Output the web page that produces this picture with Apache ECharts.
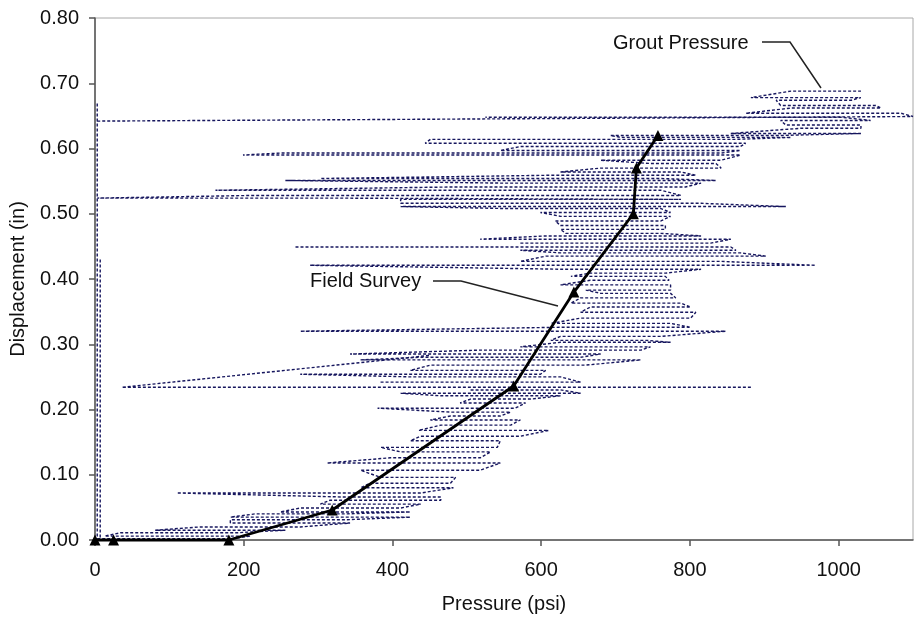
<!DOCTYPE html>
<html>
<head>
<meta charset="utf-8">
<script src="https://cdn.jsdelivr.net/npm/echarts@6/dist/echarts.min.js"></script>
<style>
html,body{margin:0;padding:0;background:#fff;}
#chart{width:917px;height:619px;}
</style>
</head>
<body>
<div id="chart"></div>
<script>
// Tick labels
var xTicks = [0, 200, 400, 600, 800, 1000];
var yTicks = [0, 0.1, 0.2, 0.3, 0.4, 0.5, 0.6, 0.7, 0.8];

// Field Survey (pressure psi, displacement in)
var fieldPressure = [0, 25, 180, 319, 563, 644, 724, 728, 757];
var fieldDisp     = [0, 0, 0, 0.046, 0.236, 0.38, 0.50, 0.57, 0.62];

// Grout Pressure trace as [pressure, displacement]
var groutZero = [[3,0.669],[3,0.002]];
var groutZero2 = [[7,0.43],[7,0.0]];
var groutLow = [
[3,0.002],[184,0.002],[209,0.006],[13,0.006],[34,0.011],[189,0.011],[256,0.015],[81,0.015],[141,0.020],[276,0.020],
[343,0.026],[182,0.026],[182,0.031],[337,0.031],[424,0.035],[182,0.035],[215,0.040],[337,0.040],[424,0.043],[249,0.043],
[276,0.049],[411,0.049],[438,0.055],[303,0.055],[316,0.061],[465,0.061],[465,0.066],[330,0.066],[110,0.072],[438,0.072],
[482,0.080],[357,0.080],[370,0.087],[478,0.087],[485,0.096],[384,0.096],[357,0.107],[518,0.107],[545,0.118],[312,0.118],
[397,0.126],[518,0.126],[532,0.135],[411,0.135],[384,0.142],[541,0.142],[545,0.152],[424,0.152],[438,0.159],[572,0.159],
[610,0.168],[435,0.168],[465,0.176],[559,0.176],[572,0.184],[451,0.184],[478,0.190],[545,0.190],[559,0.196],[478,0.196],
[380,0.202],[565,0.202],[579,0.210],[491,0.210],[505,0.216],[586,0.216],[626,0.221],[465,0.221],[411,0.225],[653,0.225],
[626,0.230],[505,0.230]
];
var groutDrop = [[882,0.234],[36,0.234],[451,0.283]];
var groutMid = [
[384,0.242],[653,0.242],[626,0.250],[424,0.250],[276,0.254],[599,0.254],[606,0.260],[424,0.260],[451,0.268],[660,0.268],
[734,0.276],[357,0.276],[438,0.280],[653,0.280],[680,0.285],[343,0.285],[518,0.291],[734,0.291],[747,0.296],[572,0.296],
[626,0.303],[774,0.303],[741,0.306],[613,0.306],[626,0.312],[761,0.312],[848,0.320],[276,0.320],[626,0.326],[801,0.326],
[774,0.332],[613,0.332],[653,0.340],[801,0.340],[808,0.349],[653,0.349],[666,0.357],[801,0.357],[788,0.363],[640,0.363],
[653,0.371],[781,0.371],[774,0.378],[680,0.378],[660,0.383],[774,0.383],[774,0.391],[626,0.391],[666,0.398],[772,0.398],
[767,0.404],[640,0.404],[666,0.409],[767,0.409],[815,0.415],[626,0.415],[289,0.421],[969,0.421],[842,0.427],[572,0.427],
[606,0.435],[902,0.435],[868,0.440],[626,0.440],[572,0.444],[862,0.444],[855,0.449],[269,0.449]
];
var groutUpper = [
[572,0.455],[828,0.455],[855,0.461],[518,0.461],[606,0.466],[815,0.466],[761,0.470],[633,0.470],[626,0.476],[767,0.476],
[767,0.482],[626,0.482],[619,0.489],[761,0.489],[774,0.496],[626,0.496],[599,0.502],[774,0.502],[761,0.508],[552,0.508],
[411,0.511],[929,0.511],[815,0.516],[411,0.516],[411,0.522],[788,0.522],[316,0.524],[3,0.524],[209,0.528],[788,0.528],
[761,0.536],[162,0.536],[478,0.541],[794,0.541],[815,0.547],[545,0.547],[256,0.551],[835,0.551],[761,0.554],[303,0.554],
[613,0.559],[808,0.559],[788,0.564],[626,0.564],[680,0.570],[842,0.570],[835,0.577],[747,0.577],[680,0.582],[842,0.582],
[868,0.590],[199,0.590],[249,0.593],[842,0.593],[868,0.597],[545,0.597],[572,0.603],[868,0.603],[875,0.608],[444,0.608],
[451,0.614],[862,0.614],[936,0.617],[707,0.617],[693,0.620],[922,0.620],[1030,0.623],[855,0.623],[949,0.631],[1030,0.631],
[1030,0.636],[929,0.636],[922,0.643],[1043,0.643],[1003,0.648],[525,0.648]
];
var groutTop = [
[3,0.642],[1100,0.649],[1084,0.654],[875,0.654],[936,0.662],[1057,0.662],[1050,0.666],[922,0.666],[916,0.674],[1017,0.674],
[1030,0.678],[882,0.678],[936,0.688],[1030,0.688]
];

var FONT = '"Liberation Sans", Arial, sans-serif';
var chart = echarts.init(document.getElementById('chart'), null, {renderer: 'canvas'});

function groutSeries(data) {
  return {
    name: 'Grout Pressure', type: 'line', data: data, showSymbol: false, symbol: 'none',
    lineStyle: {color: '#16165e', width: 1.4, type: [3, 2]}, z: 2, silent: true
  };
}

var fieldData = fieldPressure.map(function (p, i) { return [p, fieldDisp[i]]; });

var option = {
  animation: false,
  backgroundColor: '#ffffff',
  grid: {left: 95, right: 4, top: 18, bottom: 79, outerBoundsMode: 'none', containLabel: false,
    show: true, borderColor: '#a8a8a8', borderWidth: 1, backgroundColor: 'transparent'},
  xAxis: {
    type: 'value', min: 0, max: 1100, interval: 200,
    name: 'Pressure (psi)', nameLocation: 'middle', nameGap: 54,
    nameTextStyle: {fontFamily: FONT, fontSize: 20, color: '#111'},
    axisLine: {show: true, onZero: false, lineStyle: {color: '#555', width: 1.5}},
    axisTick: {show: true, length: 6, lineStyle: {color: '#555', width: 1.5}, customValues: xTicks},
    axisLabel: {fontFamily: FONT, fontSize: 20, color: '#111', margin: 20, customValues: xTicks,
      formatter: function (v) { return v > 1000 ? '' : String(v); }},
    splitLine: {show: false}
  },
  yAxis: {
    type: 'value', min: 0, max: 0.8, interval: 0.1,
    name: 'Displacement (in)', nameLocation: 'middle', nameGap: 67,
    nameTextStyle: {fontFamily: FONT, fontSize: 20, color: '#111'},
    axisLine: {show: true, onZero: false, lineStyle: {color: '#555', width: 1.5}},
    axisTick: {show: true, length: 6, lineStyle: {color: '#555', width: 1.5}, customValues: yTicks},
    axisLabel: {fontFamily: FONT, fontSize: 20, color: '#111', margin: 16, customValues: yTicks,
      formatter: function (v) { return v.toFixed(2); }},
    splitLine: {show: false}
  },
  series: [
    groutSeries(groutZero), groutSeries(groutZero2), groutSeries(groutLow), groutSeries(groutDrop),
    groutSeries(groutMid), groutSeries(groutUpper), groutSeries(groutTop),
    {
      name: 'Field Survey', type: 'line', data: fieldData, symbol: 'triangle', symbolSize: 11, showSymbol: true,
      lineStyle: {color: '#000', width: 2.8}, itemStyle: {color: '#000'}, z: 5, clip: false, silent: true
    }
  ],
  graphic: [
    {type: 'text', left: 613, top: 33, style: {text: 'Grout Pressure', font: '20px ' + FONT, fill: '#111'}},
    {type: 'polyline', shape: {points: [[762, 42], [790, 42], [821, 88]]}, style: {stroke: '#222', lineWidth: 1.5, fill: null}},
    {type: 'text', left: 310, top: 271, style: {text: 'Field Survey', font: '20px ' + FONT, fill: '#111'}},
    {type: 'polyline', shape: {points: [[433, 281], [461, 281], [558, 306]]}, style: {stroke: '#222', lineWidth: 1.5, fill: null}}
  ]
};
chart.setOption(option);
</script>
</body>
</html>
